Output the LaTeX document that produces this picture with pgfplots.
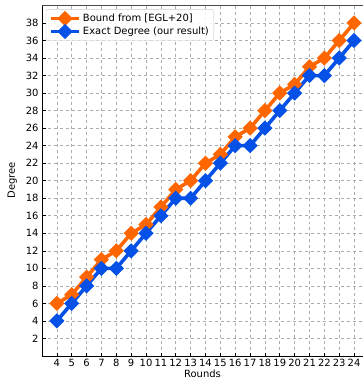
\documentclass[border=0pt]{standalone}
\usepackage{pgfplots}
\pgfplotsset{compat=1.18}
\usepackage{fontspec}
\setmainfont{DejaVu Sans}
\definecolor{myorange}{RGB}{255,102,0}
\definecolor{myblue}{RGB}{5,80,230}
\begin{document}
\begin{tikzpicture}
\begin{axis}[
  at={(0,0)}, anchor=south west,
  scale only axis, width=321bp, height=351bp,
  xmin=3, xmax=24.6, ymin=0, ymax=40.05,
  xtick={4,...,24}, ytick={2,4,...,38},
  axis x line*=bottom, axis y line*=left,
  every outer x axis line/.append style={-},
  every outer y axis line/.append style={-},
  tick label style={font=\fontsize{10}{12}\selectfont},
  /pgf/number format/assume math mode=true,
  xlabel={Rounds}, ylabel={Degree},
  label style={font=\fontsize{10}{12}\selectfont},
  xlabel style={yshift=4bp},
  ylabel style={yshift=2bp},
  grid=major,
  major grid style={gray!65, dashed, line width=0.6pt},
  major tick length=3.5bp,
  tick style={black, line width=0.6pt},
  axis line style={line width=0.8pt},
  legend pos=north west,
  legend style={at={(0.012,0.988)}, font=\fontsize{10}{12}\selectfont, draw=gray!40, rounded corners=2pt, fill=white, fill opacity=0.9, text opacity=1, row sep=0bp, inner xsep=3bp, inner ysep=2.5bp},
  legend cell align=left,
  legend image code/.code={\draw[mark repeat=2, mark phase=2] plot coordinates {(0cm,0cm) (0.5cm,0cm) (1.0cm,0cm)};},
]
\addplot[myorange, line width=3.6pt, mark=square*, mark size=3.6pt, mark options={solid, rotate=45}] coordinates {
(4,6)(5,7)(6,9)(7,11)(8,12)(9,14)(10,15)(11,17)(12,19)(13,20)(14,22)(15,23)(16,25)(17,26)(18,28)(19,30)(20,31)(21,33)(22,34)(23,36)(24,38)};
\addlegendentry{Bound from [EGL+20]}
\addplot[myblue, line width=3.6pt, mark=square*, mark size=3.6pt, mark options={solid, rotate=45}] coordinates {
(4,4)(5,6)(6,8)(7,10)(8,10)(9,12)(10,14)(11,16)(12,18)(13,18)(14,20)(15,22)(16,24)(17,24)(18,26)(19,28)(20,30)(21,32)(22,32)(23,34)(24,36)};
\addlegendentry{Exact Degree (our result)}
\end{axis}
\draw[black!70, line width=0.8pt] (0,351bp) -- (321bp,351bp);
\path[use as bounding box] (-42bp,-28bp) rectangle (322bp,356bp);
\end{tikzpicture}
\end{document}
